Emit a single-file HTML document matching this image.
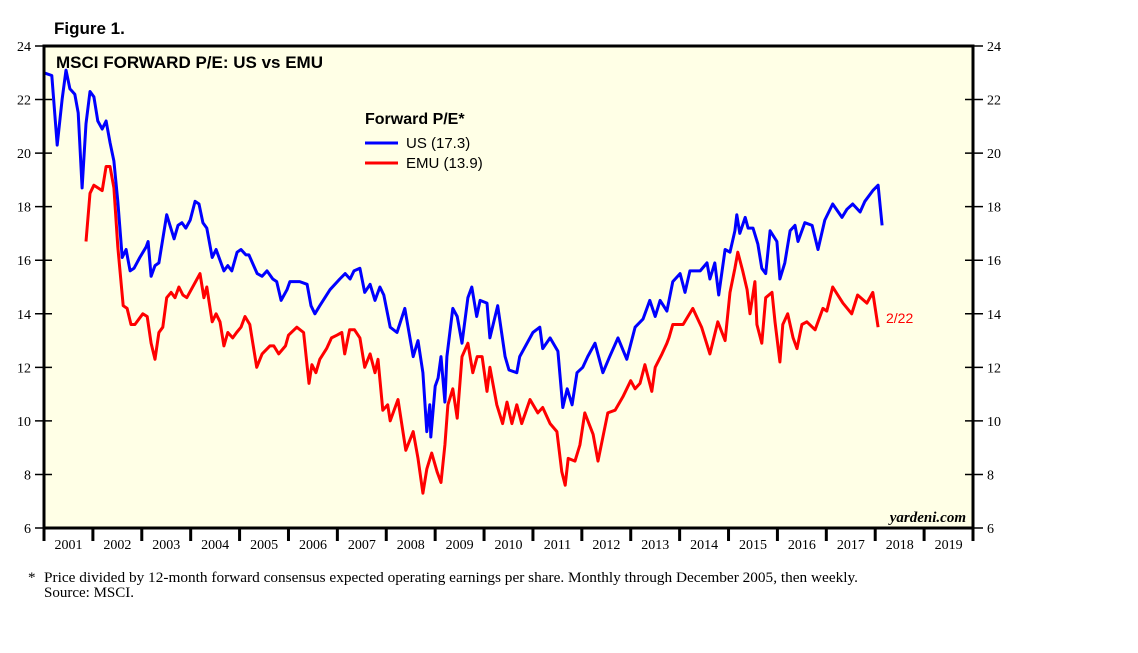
<!DOCTYPE html>
<html><head><meta charset="utf-8"><style>
body{margin:0;background:#fff;width:1138px;height:648px;overflow:hidden}
svg text{font-family:"Liberation Sans",sans-serif}
.serif{font-family:"Liberation Serif",serif}
</style></head><body>
<svg id="chart" width="1138" height="648" xmlns="http://www.w3.org/2000/svg">
<text x="54" y="34" font-size="17" font-weight="bold">Figure 1.</text>
<rect x="44" y="46" width="929" height="482" fill="#ffffe6"/>
<g id="grid"></g>
<g id="series"></g>
<rect x="44" y="46" width="929" height="482" fill="none" stroke="#000" stroke-width="3"/>
<text x="56" y="68" font-size="17" font-weight="bold">MSCI FORWARD P/E: US vs EMU</text>
<text x="365" y="124" font-size="16" font-weight="bold">Forward P/E*</text>
<line x1="365" y1="143" x2="398" y2="143" stroke="#0000ff" stroke-width="3"/>
<text x="406" y="148" font-size="15">US (17.3)</text>
<line x1="365" y1="163" x2="398" y2="163" stroke="#ff0000" stroke-width="3"/>
<text x="406" y="168" font-size="15">EMU (13.9)</text>
<text x="886" y="323" font-size="14" fill="#ff0000">2/22</text>
<text class="serif" x="966" y="522" font-size="15" font-style="italic" font-weight="bold" text-anchor="end">yardeni.com</text>
<text class="serif" x="28" y="582" font-size="15">*</text>
<text class="serif" x="44" y="582" font-size="15" textLength="814" lengthAdjust="spacingAndGlyphs">Price divided by 12-month forward consensus expected operating earnings per share. Monthly through December 2005, then weekly.</text>
<text class="serif" x="44" y="597" font-size="15">Source: MSCI.</text>
</svg>
<script>
const yTicks=[6,8,10,12,14,16,18,20,22,24];
const years=[2001,2002,2003,2004,2005,2006,2007,2008,2009,2010,2011,2012,2013,2014,2015,2016,2017,2018,2019];
const usDates=[2001.00,2001.16,2001.27,2001.37,2001.45,2001.53,2001.63,2001.70,2001.78,2001.86,2001.94,2002.02,2002.10,2002.19,2002.27,2002.35,2002.43,2002.51,2002.60,2002.68,2002.76,2002.84,2002.96,2003.09,2003.13,2003.19,2003.27,2003.35,2003.51,2003.66,2003.74,2003.82,2003.90,2003.99,2004.09,2004.17,2004.25,2004.33,2004.44,2004.52,2004.68,2004.76,2004.84,2004.95,2005.03,2005.13,2005.19,2005.36,2005.46,2005.56,2005.68,2005.76,2005.85,2005.97,2006.03,2006.23,2006.38,2006.46,2006.54,2006.64,2006.85,2007.05,2007.16,2007.26,2007.34,2007.46,2007.56,2007.67,2007.77,2007.87,2007.95,2008.08,2008.22,2008.38,2008.55,2008.65,2008.75,2008.83,2008.89,2008.91,2009.00,2009.06,2009.12,2009.20,2009.24,2009.36,2009.45,2009.55,2009.67,2009.75,2009.85,2009.92,2010.06,2010.12,2010.28,2010.43,2010.51,2010.67,2010.73,2011.00,2011.14,2011.20,2011.35,2011.51,2011.61,2011.70,2011.80,2011.90,2012.02,2012.12,2012.27,2012.43,2012.57,2012.74,2012.92,2013.09,2013.25,2013.39,2013.50,2013.60,2013.74,2013.86,2014.01,2014.11,2014.21,2014.42,2014.56,2014.62,2014.72,2014.80,2014.93,2015.03,2015.13,2015.17,2015.23,2015.34,2015.40,2015.50,2015.60,2015.68,2015.76,2015.85,2015.99,2016.05,2016.15,2016.26,2016.36,2016.42,2016.56,2016.71,2016.83,2016.97,2017.13,2017.32,2017.42,2017.54,2017.69,2017.79,2017.95,2018.06,2018.14];
const usValues=[23.0,22.9,20.3,22.0,23.1,22.4,22.2,21.5,18.7,21.1,22.3,22.1,21.2,20.9,21.2,20.4,19.7,18.2,16.1,16.4,15.6,15.7,16.1,16.5,16.7,15.4,15.8,15.9,17.7,16.8,17.3,17.4,17.2,17.5,18.2,18.1,17.4,17.2,16.1,16.4,15.6,15.8,15.6,16.3,16.4,16.2,16.2,15.5,15.4,15.6,15.3,15.2,14.5,14.9,15.2,15.2,15.1,14.3,14.0,14.3,14.9,15.3,15.5,15.3,15.6,15.7,14.8,15.1,14.5,15.0,14.7,13.5,13.3,14.2,12.4,13.0,11.8,9.6,10.6,9.4,11.3,11.6,12.4,10.7,12.4,14.2,13.9,12.9,14.6,15.0,13.9,14.5,14.4,13.1,14.3,12.4,11.9,11.8,12.4,13.3,13.5,12.7,13.1,12.6,10.5,11.2,10.6,11.8,12.0,12.4,12.9,11.8,12.4,13.1,12.3,13.5,13.8,14.5,13.9,14.5,14.1,15.2,15.5,14.8,15.6,15.6,15.9,15.3,15.9,14.7,16.4,16.3,17.1,17.7,17.0,17.6,17.2,17.2,16.6,15.7,15.5,17.1,16.7,15.3,15.9,17.1,17.3,16.7,17.4,17.3,16.4,17.5,18.1,17.6,17.9,18.1,17.8,18.2,18.6,18.8,17.3];
const emuDates=[2001.86,2001.94,2002.02,2002.19,2002.27,2002.35,2002.43,2002.51,2002.62,2002.70,2002.78,2002.86,2003.02,2003.11,2003.19,2003.27,2003.35,2003.43,2003.51,2003.60,2003.68,2003.76,2003.84,2003.92,2004.19,2004.27,2004.33,2004.44,2004.52,2004.60,2004.68,2004.76,2004.86,2004.94,2005.03,2005.11,2005.21,2005.35,2005.46,2005.62,2005.70,2005.80,2005.94,2006.00,2006.17,2006.31,2006.42,2006.48,2006.56,2006.64,2006.78,2006.88,2006.99,2007.09,2007.15,2007.25,2007.35,2007.46,2007.56,2007.67,2007.77,2007.83,2007.93,2008.03,2008.08,2008.24,2008.40,2008.55,2008.65,2008.75,2008.83,2008.93,2009.04,2009.12,2009.20,2009.26,2009.36,2009.45,2009.55,2009.67,2009.77,2009.86,2009.96,2010.06,2010.12,2010.26,2010.38,2010.47,2010.57,2010.67,2010.77,2010.94,2011.10,2011.20,2011.35,2011.49,2011.59,2011.66,2011.72,2011.86,2011.96,2012.06,2012.23,2012.33,2012.43,2012.53,2012.68,2012.84,2013.00,2013.09,2013.19,2013.29,2013.43,2013.50,2013.64,2013.74,2013.78,2013.86,2014.07,2014.27,2014.45,2014.62,2014.78,2014.93,2015.03,2015.13,2015.19,2015.29,2015.38,2015.44,2015.54,2015.58,2015.68,2015.76,2015.89,2015.95,2016.05,2016.11,2016.21,2016.32,2016.40,2016.50,2016.60,2016.77,2016.93,2017.01,2017.13,2017.34,2017.52,2017.64,2017.83,2017.95,2018.06,2018.14];
const emuValues=[16.7,18.5,18.8,18.6,19.5,19.5,18.7,16.5,14.3,14.2,13.6,13.6,14.0,13.9,12.9,12.3,13.3,13.5,14.6,14.8,14.6,15.0,14.7,14.6,15.5,14.6,15.0,13.7,14.0,13.7,12.8,13.3,13.1,13.3,13.5,13.9,13.6,12.0,12.5,12.8,12.8,12.5,12.8,13.2,13.5,13.3,11.4,12.1,11.8,12.3,12.7,13.1,13.2,13.3,12.5,13.4,13.4,13.1,12.0,12.5,11.8,12.3,10.4,10.6,10.0,10.8,8.9,9.6,8.6,7.3,8.2,8.8,8.1,7.7,9.1,10.6,11.2,10.1,12.4,12.9,11.8,12.4,12.4,11.1,12.0,10.6,9.9,10.7,9.9,10.6,9.9,10.8,10.3,10.5,9.9,9.6,8.1,7.6,8.6,8.5,9.1,10.3,9.5,8.5,9.4,10.3,10.4,10.9,11.5,11.2,11.4,12.1,11.1,12.0,12.5,12.9,13.1,13.6,13.6,14.2,13.5,12.5,13.7,13.0,14.8,15.7,16.3,15.6,14.9,14.0,15.2,13.6,12.9,14.6,14.8,13.7,12.2,13.6,14.0,13.1,12.7,13.6,13.7,13.4,14.2,14.1,15.0,14.4,14.0,14.7,14.4,14.8,13.5];
const X0=44,X1=973,Y0=528,Y1=46;
const xS=t=>X0+(t-2001)/19*(X1-X0);
const yS=v=>Y0-(v-6)/18*(Y0-Y1);
const NS='http://www.w3.org/2000/svg';
const g=document.getElementById('grid'),s=document.getElementById('series');
function mk(tag,attrs,parent){const e=document.createElementNS(NS,tag);for(const k in attrs)e.setAttribute(k,attrs[k]);parent.appendChild(e);return e;}
yTicks.forEach(v=>{
  const y=yS(v);
  const a=mk('line',{x1:35,x2:X0+8,y1:y,y2:y,stroke:'#000','stroke-width':1.5},g);
  
  
  const b=mk('line',{x1:X1-8,x2:983,y1:y,y2:y,stroke:'#000','stroke-width':1.5},g);
  
  
  const t=mk('text',{x:31,y:y+5,'font-size':14,'text-anchor':'end',class:'serif'},g);t.textContent=v;
  
  
  const t2=mk('text',{x:987,y:y+5,'font-size':14,class:'serif'},g);t2.textContent=v;
  
  
});
years.concat([2020]).forEach(yr=>{
  const x=xS(yr);
  const l=mk('line',{x1:x,x2:x,y1:Y0,y2:541,stroke:'#000','stroke-width':3},g);
  
  
  if(yr<2020){
    const t=mk('text',{x:x+24.5,y:549,'font-size':14,'text-anchor':'middle',class:'serif'},g);t.textContent=yr;
    
    
  }
});
function line(d,v,c,name){
  const p=mk('polyline',{points:d.map((t,i)=>xS(t).toFixed(1)+','+yS(v[i]).toFixed(1)).join(' '),fill:'none',stroke:c,'stroke-width':3,'stroke-linejoin':'round'},s);
  
  
}
line(emuDates,emuValues,'#ff0000','emu-line');
line(usDates,usValues,'#0000ff','us-line');
</script>
</body></html>
